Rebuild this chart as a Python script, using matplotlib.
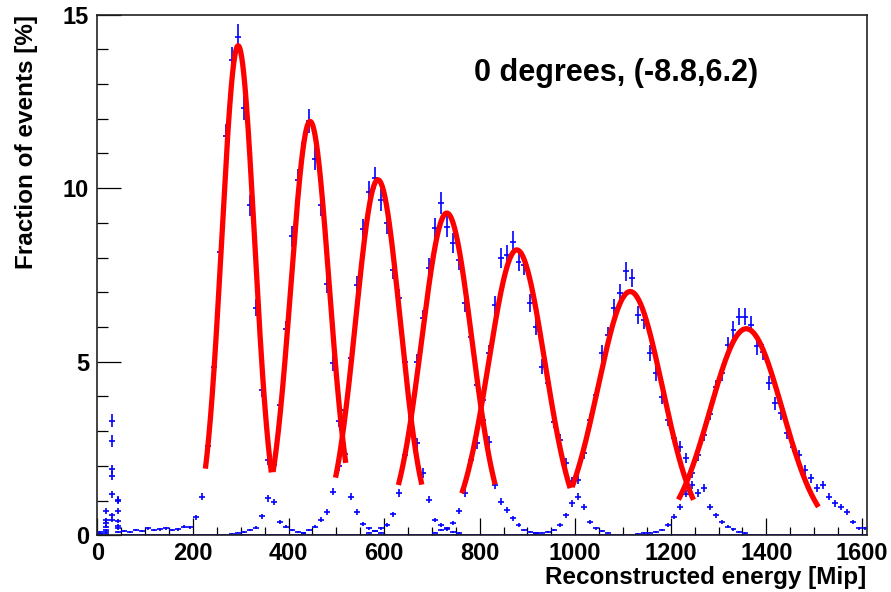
import numpy as np
import matplotlib
matplotlib.use("Agg")
import matplotlib.pyplot as plt
from matplotlib.ticker import MultipleLocator

plt.rcParams['font.family'] = ['Liberation Sans', 'DejaVu Sans']
plt.rcParams['font.weight'] = 'bold'

# histogram binning (Mip)
bin_width = 12.5
n_bins = 129

# pedestal bins 0..3 for each energy point
ped = [
    [0.10, 0.70, 1.18, 1.02],
    [0.05, 0.44, 1.72, 0.70],
    [0.05, 0.34, 2.71, 0.41],
    [0.05, 0.25, 3.30, 0.99],
    [0.05, 0.15, 1.90, 0.28],
    [0.05, 0.10, 0.58, 0.20],
    [0.05, 0.05, 0.45, 0.10],
]

# main peak of each energy point: first bin index and fraction of events [%]
h1_start = 4
h1 = [0.12, 0.1, 0.15, 0.12, 0.2, 0.15, 0.18, 0.2, 0.15, 0.18, 0.25, 0.23, 0.52,
      1.11, 2.57, 4.86, 8.17, 11.51, 13.7, 14.36, 12.31, 9.5, 6.56, 4.18, 2.18,
      0.96, 0.38, 0.25, 0.15, 0.1, 0.08]
h2_start = 22
h2 = [0.05, 0.08, 0.1, 0.15, 0.22, 0.55, 1.06, 2.03, 3.74, 5.93, 8.61, 10.22,
      11.29, 11.92, 10.85, 9.5, 7.25, 4.96, 3.3, 2.33, 1.11, 0.67, 0.33, 0.2,
      0.12, 0.08]
h3_start = 34
h3 = [0.08, 0.15, 0.25, 0.45, 0.67, 1.26, 1.99, 3.6, 5.1, 7.2, 8.81, 9.88, 10.29,
      9.66, 8.99, 7.65, 6.83, 5.0, 3.08, 2.65, 1.79, 1.02, 0.44, 0.3, 0.18, 0.1,
      0.06]
h4_start = 45
h4 = [0.08, 0.12, 0.2, 0.3, 0.6, 1.21, 2.31, 3.4, 5.0, 6.25, 7.7, 8.85, 9.57,
      8.89, 8.41, 7.93, 6.69, 5.72, 4.33, 3.32, 2.7, 1.45, 0.97, 0.73, 0.49, 0.3,
      0.15, 0.1, 0.06]
h5_start = 56
h5 = [0.08, 0.15, 0.2, 0.35, 0.7, 1.21, 2.17, 2.65, 3.9, 5.24, 6.64, 7.98, 8.08,
      8.46, 7.88, 7.79, 6.69, 6.01, 4.86, 4.38, 3.27, 2.75, 2.07, 1.55, 1.11,
      0.82, 0.39, 0.2, 0.12, 0.08]
h6_start = 73
h6 = [0.06, 0.08, 0.1, 0.15, 0.3, 0.58, 0.92, 1.6, 2.36, 3.32, 4.04, 5.24, 5.77,
      6.54, 6.97, 7.6, 7.41, 6.35, 6.2, 5.24, 4.67, 3.99, 3.32, 2.8, 2.55, 2.22,
      1.45, 1.21, 1.35, 0.82, 0.58, 0.39, 0.25, 0.18, 0.1, 0.06]
h7_start = 90
h7 = [0.05, 0.06, 0.08, 0.1, 0.15, 0.3, 0.54, 0.82, 1.2, 1.79, 2.3, 2.9, 3.5,
      4.28, 4.67, 5.48, 5.92, 6.3, 6.3, 6.06, 5.44, 5.29, 4.38, 3.8, 3.52, 2.94,
      2.55, 2.31, 1.88, 1.64, 1.35, 1.45, 1.11, 0.92, 0.82, 0.68, 0.39, 0.2, 0.2]

# gaussian fits: amplitude, mean, sigma, fit range
fit_amp = [14.1, 11.92, 10.24, 9.28, 8.22, 7.02, 5.95]
fit_mean = [294.4, 445.0, 587.0, 731.2, 877.7, 1115.0, 1358.0]
fit_sigma = [34.3, 40.0, 46.5, 52.6, 58.8, 67.5, 75.8]
fit_lo = [225.9, 367.5, 498.3, 629.8, 762.6, 993.5, 1216.0]
fit_hi = [363.9, 519.7, 678.8, 832.3, 989.3, 1247.5, 1509.0]

peaks = [(h1_start, h1), (h2_start, h2), (h3_start, h3), (h4_start, h4),
         (h5_start, h5), (h6_start, h6), (h7_start, h7)]

centers = (np.arange(n_bins) + 0.5) * bin_width

fig = plt.figure(figsize=(8.91, 5.92), dpi=100)
ax = fig.add_axes([0.1094, 0.0958, 0.8633, 0.8797])

for p, (start, vals) in zip(ped, peaks):
    h = np.zeros(n_bins)
    h[:len(p)] = p
    h[start:start + len(vals)] = vals
    err = 0.1 * np.sqrt(h)
    ax.errorbar(centers, h, xerr=bin_width / 2, yerr=err, fmt='none',
                ecolor='#0000ff', elinewidth=1.2, capsize=0, zorder=2)

for a, m, s, lo, hi in zip(fit_amp, fit_mean, fit_sigma, fit_lo, fit_hi):
    xx = np.linspace(lo, hi, 300)
    ax.plot(xx, a * np.exp(-0.5 * ((xx - m) / s) ** 2), color='#ff0000',
            lw=3.8, solid_capstyle='butt', zorder=3)

ax.set_xlim(0, 1610)
ax.set_ylim(0, 15)
ax.xaxis.set_major_locator(MultipleLocator(200))
ax.xaxis.set_minor_locator(MultipleLocator(50))
ax.yaxis.set_major_locator(MultipleLocator(5))
ax.yaxis.set_minor_locator(MultipleLocator(1))

ax.tick_params(axis='both', which='both', direction='in', top=False,
               right=False, width=0.9, labelsize=17)
ax.tick_params(axis='x', which='major', length=12, pad=5)
ax.tick_params(axis='x', which='minor', length=6)
ax.tick_params(axis='y', which='major', length=17, pad=6)
ax.tick_params(axis='y', which='minor', length=8)
for sp in ax.spines.values():
    sp.set_linewidth(1.2)
    sp.set_color('#222222')

ax.text(1.0, -0.082, 'Reconstructed energy [Mip]', transform=ax.transAxes,
        ha='right', va='center', fontsize=17.5, fontweight='bold')
ax.text(-0.0917, 1.0, 'Fraction of events [%]', transform=ax.transAxes,
        ha='center', va='top', rotation=90, fontsize=17.5, fontweight='bold')
ax.text(0.4895, 0.888, '0 degrees, (-8.8,6.2)', transform=ax.transAxes,
        ha='left', va='center', fontsize=22, fontweight='bold')

fig.savefig('out.png', dpi=100)
